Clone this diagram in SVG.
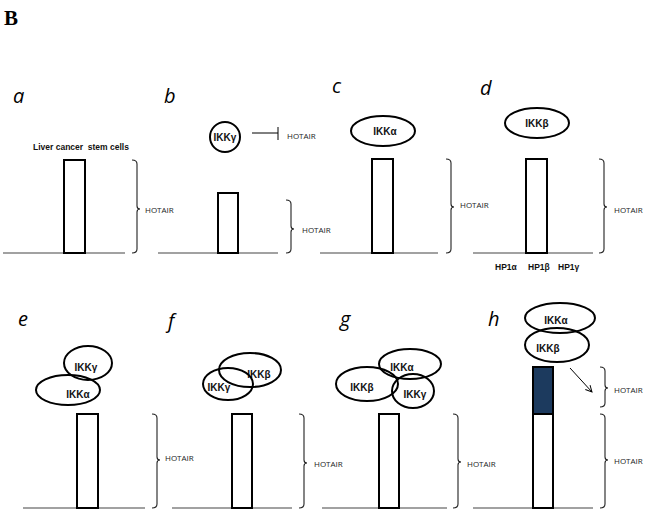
<svg xmlns="http://www.w3.org/2000/svg" width="650" height="514" viewBox="0 0 650 514">
<defs>
<style>
.bg{fill:#fff}
.base{stroke:#444;stroke-width:1.2;fill:none}
.bar{fill:#fff;stroke:#000;stroke-width:2}
.brace{fill:none;stroke:#222;stroke-width:1.1}
.ell{fill:none;stroke:#000;stroke-width:2}
.lbl{font-family:"Open Sans","Liberation Sans",sans-serif;font-style:italic;font-size:20px;fill:#000}
.ht{font-family:"Open Sans","Liberation Sans",sans-serif;font-size:8px;fill:#222}
.ikk{font-family:"Liberation Sans",Arial,sans-serif;font-weight:bold;font-size:10px;fill:#111}
.small{font-family:"Liberation Sans",Arial,sans-serif;font-weight:bold;font-size:8.5px;fill:#111}
.title{font-family:"Liberation Serif","Times New Roman",serif;font-weight:bold;font-size:21px;fill:#000}
</style>
<marker id="open" viewBox="0 0 10 10" refX="9" refY="5" markerWidth="8" markerHeight="8" orient="auto" markerUnits="userSpaceOnUse">
<path d="M1,1 L9,5 L1,9" fill="none" stroke="#000" stroke-width="1.2"/>
</marker>
</defs>
<rect class="bg" x="0" y="0" width="650" height="514"/>
<text class="title" x="4" y="25">B</text>

<g id="panel-a">
<text class="lbl" x="13" y="103">a</text>
<line class="base" x1="3" y1="253" x2="125" y2="253"/>
<rect class="bar" x="64" y="160" width="21" height="93"/>
<text class="small" x="33" y="150" xml:space="preserve">Liver cancer  stem cells</text>
<path class="brace" d="M132,160 Q137,160 137,164 L137,206 Q137,209 140,209 Q137,209 137,212 L137,249 Q137,253 132,253"/>
<text class="ht" x="145" y="213">HOTAIR</text>
</g>

<g id="panel-b">
<text class="lbl" x="164" y="103">b</text>
<line class="base" x1="158" y1="253" x2="278" y2="253"/>
<rect class="bar" x="218" y="193" width="20" height="60"/>
<path class="brace" d="M286,200 Q291,200 291,204 L291,226 Q291,229 294,229 Q291,229 291,232 L291,249 Q291,253 286,253"/>
<text class="ht" x="302" y="233">HOTAIR</text>
<g id="ikkg-b">
<circle class="ell" cx="225" cy="137" r="15"/>
<text class="ikk" x="225" y="141" text-anchor="middle">IKKγ</text>
</g>
<text class="ht" x="287" y="139">HOTAIR</text>
</g>

<g id="panel-c">
<text class="lbl" x="332" y="93">c</text>
<line class="base" x1="320" y1="253" x2="438" y2="253"/>
<rect class="bar" x="372" y="159" width="21" height="94"/>
<path class="brace" d="M446,159 Q451,159 451,163 L451,204 Q451,207 454,207 Q451,207 451,210 L451,249 Q451,253 446,253"/>
<text class="ht" x="460" y="208">HOTAIR</text>
<g id="ikka-c">
<ellipse class="ell" cx="383" cy="131" rx="32" ry="15"/>
<text class="ikk" x="385" y="135" text-anchor="middle">IKKα</text>
</g>
</g>

<g id="panel-d">
<text class="lbl" x="480" y="95">d</text>
<line class="base" x1="473" y1="253" x2="593" y2="253"/>
<rect class="bar" x="526" y="159" width="21" height="94"/>
<path class="brace" d="M599,159 Q604,159 604,163 L604,204 Q604,207 607,207 Q604,207 604,210 L604,249 Q604,253 599,253"/>
<text class="ht" x="614" y="213">HOTAIR</text>
<g id="ikkb-d">
<ellipse class="ell" cx="537" cy="123" rx="32" ry="15"/>
<text class="ikk" x="537" y="127" text-anchor="middle">IKKβ</text>
</g>
<text class="small" x="495" y="270">HP1α</text>
<text class="small" x="528" y="270">HP1β</text>
<text class="small" x="558" y="270">HP1γ</text>
</g>

<g id="panel-e">
<text class="lbl" x="18" y="326">e</text>
<line class="base" x1="23" y1="508" x2="145" y2="508"/>
<rect class="bar" x="77" y="414" width="21" height="94"/>
<path class="brace" d="M152,414 Q157,414 157,418 L157,457 Q157,460 160,460 Q157,460 157,463 L157,504 Q157,508 152,508"/>
<text class="ht" x="165" y="461">HOTAIR</text>
<g id="ikkg-e">
<ellipse class="ell" cx="88" cy="363" rx="24" ry="17"/>
<text class="ikk" x="86" y="371" text-anchor="middle">IKKγ</text>
</g>
<g id="ikka-e">
<ellipse class="ell" cx="68" cy="390" rx="32" ry="15"/>
<text class="ikk" x="78" y="398" text-anchor="middle">IKKα</text>
</g>
</g>

<g id="panel-f">
<text class="lbl" x="168" y="328">f</text>
<line class="base" x1="172" y1="508" x2="292" y2="508"/>
<rect class="bar" x="232" y="414" width="20" height="94"/>
<path class="brace" d="M299,414 Q304,414 304,418 L304,460 Q304,463 307,463 Q304,463 304,466 L304,504 Q304,508 299,508"/>
<text class="ht" x="314" y="467">HOTAIR</text>
<g id="ikkb-f">
<ellipse class="ell" cx="250" cy="370" rx="31" ry="17"/>
<text class="ikk" x="259" y="378" text-anchor="middle">IKKβ</text>
</g>
<g id="ikkg-f">
<ellipse class="ell" cx="228" cy="384" rx="25" ry="16"/>
<text class="ikk" x="219" y="391" text-anchor="middle">IKKγ</text>
</g>
</g>

<g id="panel-g">
<text class="lbl" x="340" y="326">g</text>
<line class="base" x1="322" y1="508" x2="447" y2="508"/>
<rect class="bar" x="379" y="414" width="20" height="94"/>
<path class="brace" d="M453,414 Q458,414 458,418 L458,459 Q458,462 461,462 Q458,462 458,465 L458,504 Q458,508 453,508"/>
<text class="ht" x="467" y="467">HOTAIR</text>
<g id="ikka-g">
<ellipse class="ell" cx="410" cy="364" rx="31" ry="15"/>
<text class="ikk" x="402" y="371" text-anchor="middle">IKKα</text>
</g>
<g id="ikkb-g">
<ellipse class="ell" cx="367" cy="384" rx="31" ry="17"/>
<text class="ikk" x="362" y="391" text-anchor="middle">IKKβ</text>
</g>
<g id="ikkg-g">
<ellipse class="ell" cx="413" cy="391" rx="21" ry="17"/>
<text class="ikk" x="415" y="398" text-anchor="middle">IKKγ</text>
</g>
</g>

<g id="panel-h">
<text class="lbl" x="488" y="326">h</text>
<line class="base" x1="473" y1="508" x2="593" y2="508"/>
<rect class="bar" x="533" y="414" width="20" height="94"/>
<rect x="533" y="367" width="20" height="47" fill="#1c3a5e" stroke="#000" stroke-width="2"/>
<path class="brace" d="M600,367 Q605,367 605,371 L605,385 Q605,388 608,388 Q605,388 605,391 L605,403 Q605,407 600,407"/>
<text class="ht" x="614" y="393">HOTAIR</text>
<path class="brace" d="M600,414 Q605,414 605,418 L605,457 Q605,460 608,460 Q605,460 605,463 L605,504 Q605,508 600,508"/>
<text class="ht" x="614" y="464">HOTAIR</text>
<g id="ikka-h">
<ellipse class="ell" cx="560" cy="318" rx="35" ry="15"/>
<text class="ikk" x="556" y="324" text-anchor="middle">IKKα</text>
</g>
<g id="ikkb-h">
<ellipse class="ell" cx="557" cy="345" rx="32" ry="17"/>
<text class="ikk" x="548" y="352" text-anchor="middle">IKKβ</text>
</g>
</g>

<g id="connectors">
<line x1="252" y1="133" x2="278" y2="133" stroke="#000" stroke-width="1"/>
<line x1="278" y1="127" x2="278" y2="140" stroke="#000" stroke-width="1"/>
<line x1="570" y1="368" x2="592" y2="392" stroke="#000" stroke-width="1" marker-end="url(#open)"/>
</g>
</svg>
